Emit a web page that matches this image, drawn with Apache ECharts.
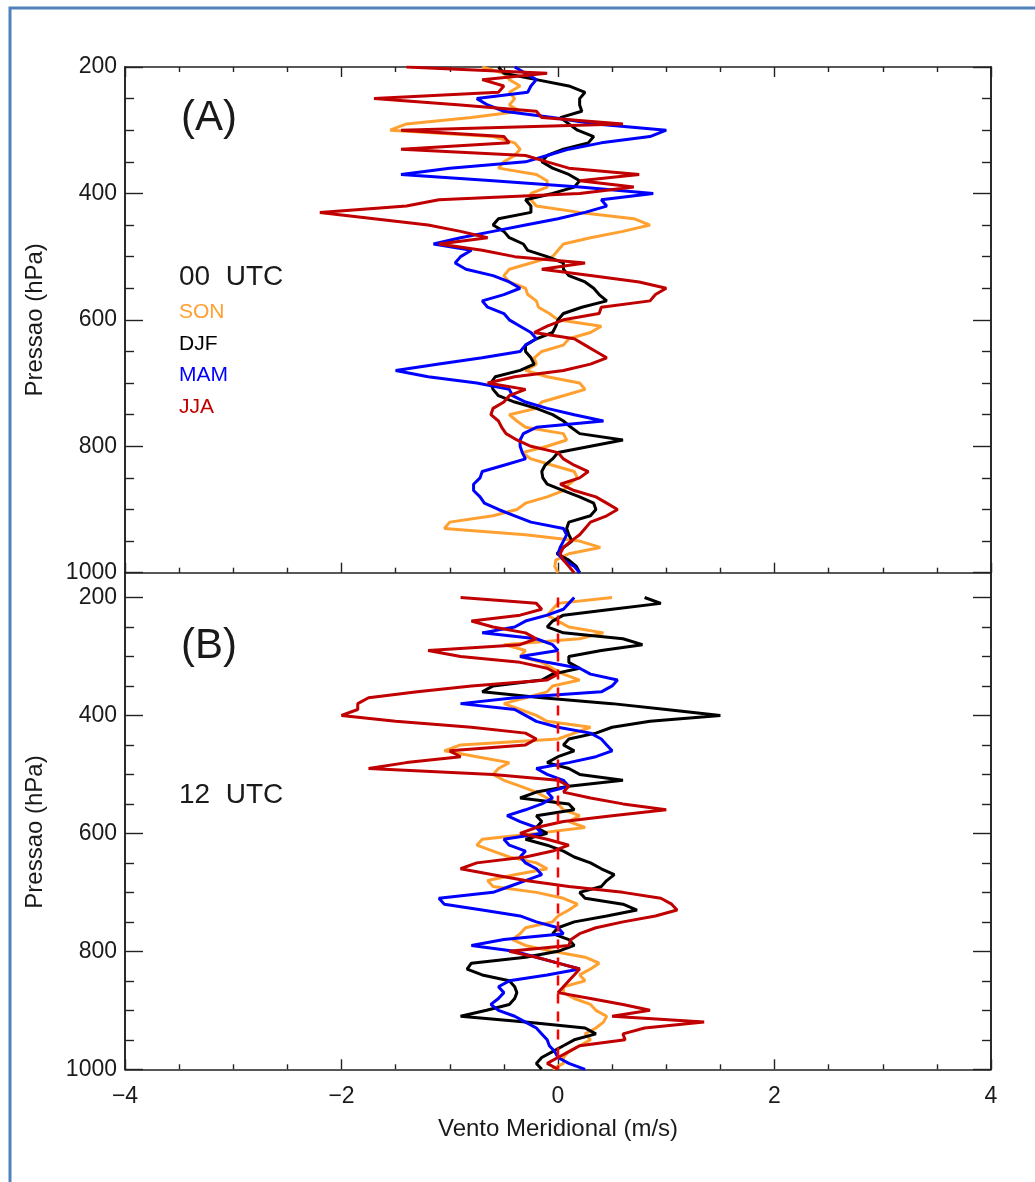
<!DOCTYPE html>
<html>
<head>
<meta charset="utf-8">
<script src="https://cdn.jsdelivr.net/npm/echarts@6/dist/echarts.min.js"></script>
<style>
html,body{margin:0;padding:0;background:#fff;}
#chart{width:1035px;height:1182px;}
</style>
</head>
<body>
<div id="chart"></div>
<script>
// Pressure levels (hPa)
const pressureLevels = [200,210,220,230,240,250,260,270,280,290,
 300,310,320,330,340,350,360,370,380,390,
 400,410,420,430,440,450,460,470,480,490,
 500,510,520,530,540,550,560,570,580,590,
 600,610,620,630,640,650,660,670,680,690,
 700,710,720,730,740,750,760,770,780,790,
 800,810,820,830,840,850,860,870,880,890,
 900,910,920,930,940,950,960,970,980,990,1000];

// (A) 00 UTC meridional wind (m/s)
const son00 = [-0.7,-0.5,-0.45,-0.35,-0.45,-0.4,-0.45,-0.35,-0.8,-1.4,
 -1.55,-0.6,-0.4,-0.35,-0.4,-0.5,-0.55,-0.2,-0.1,-0.1,
 -0.25,-0.25,-0.2,0.2,0.7,0.85,0.6,0.3,0.05,0.0,
 -0.05,-0.25,-0.45,-0.5,-0.45,-0.3,-0.28,-0.2,-0.18,-0.08,
 0.0,0.4,0.3,0.1,0.05,-0.15,-0.22,-0.2,-0.3,-0.1,
 0.2,0.25,0.05,-0.15,-0.2,-0.45,-0.38,-0.3,0.05,0.08,
 -0.1,-0.33,-0.25,-0.05,0.15,0.18,0.1,0.05,-0.1,-0.3,
 -0.38,-0.6,-1.0,-1.05,-0.3,0.2,0.39,0.1,-0.02,-0.03,0.0];
const djf00 = [-0.55,-0.5,-0.2,0.1,0.25,0.2,0.2,0.22,0.02,0.1,
 0.18,0.33,0.28,0.05,-0.1,-0.15,-0.05,0.1,0.2,0.15,
 -0.05,-0.3,-0.25,-0.25,-0.55,-0.6,-0.5,-0.45,-0.32,-0.28,
 -0.1,0.05,0.05,0.1,0.25,0.33,0.38,0.45,0.22,0.05,
 0.0,-0.02,-0.05,-0.2,-0.3,-0.3,-0.25,-0.22,-0.35,-0.58,
 -0.62,-0.6,-0.55,-0.4,-0.2,-0.05,0.05,0.12,0.2,0.6,
 0.3,0.0,-0.05,-0.12,-0.15,-0.14,-0.1,0.05,0.2,0.33,
 0.35,0.3,0.1,0.08,0.1,0.13,0.05,-0.01,0.1,0.17,0.2];
const mam00 = [-0.4,-0.3,-0.2,-0.25,-0.28,-0.75,-0.65,-0.5,-0.05,0.35,
 1.0,0.85,0.4,0.1,-0.1,-0.3,-1.0,-1.45,-0.6,0.2,
 0.88,0.4,0.45,0.25,0.0,-0.3,-0.6,-0.9,-1.15,-0.8,
 -0.9,-0.95,-0.85,-0.6,-0.45,-0.35,-0.5,-0.7,-0.65,-0.5,
 -0.45,-0.35,-0.25,-0.2,-0.3,-0.35,-0.7,-1.1,-1.5,-1.2,
 -0.75,-0.45,-0.42,-0.3,-0.1,0.15,0.42,-0.2,-0.32,-0.35,
 -0.35,-0.33,-0.3,-0.5,-0.7,-0.72,-0.78,-0.78,-0.72,-0.68,
 -0.55,-0.4,-0.25,0.05,0.08,0.05,0.02,0.0,0.05,0.15,0.2];
const jja00 = [-1.4,-0.1,-0.7,-0.5,-0.55,-1.7,-0.9,-0.2,-0.15,0.6,
 -1.45,-0.5,-0.45,-1.45,-0.3,-0.1,0.1,0.75,0.2,0.7,
 0.2,-1.1,-1.4,-2.2,-1.7,-1.2,-0.9,-0.65,-1.1,-0.7,
 -0.4,0.25,-0.15,0.3,0.75,1.0,0.9,0.85,0.4,0.38,
 0.05,-0.1,-0.22,0.15,0.25,0.35,0.45,0.3,0.05,-0.4,
 -0.65,-0.3,-0.45,-0.5,-0.6,-0.62,-0.55,-0.52,-0.48,-0.38,
 -0.25,0.0,0.05,0.15,0.28,0.2,0.02,0.15,0.35,0.45,
 0.55,0.45,0.3,0.25,0.2,0.12,0.05,0.02,0.05,0.1,0.15];

// (B) 12 UTC meridional wind (m/s)
const son12 = [0.5,0.0,-0.05,-0.1,0.0,0.1,0.42,0.2,-0.5,-0.3,
 -0.35,-0.15,-0.05,0.05,0.2,-0.05,-0.1,-0.3,-0.5,-0.35,
 -0.2,-0.1,0.3,0.15,0.0,-0.9,-1.05,-0.75,-0.45,-0.55,
 -0.6,-0.5,-0.35,-0.2,-0.1,0.0,0.05,0.2,0.1,0.25,
 -0.2,-0.7,-0.75,-0.6,-0.45,-0.2,-0.1,-0.4,-0.65,-0.6,
 -0.2,0.05,0.18,0.1,0.0,-0.05,-0.3,-0.35,-0.42,-0.3,
 -0.05,0.25,0.38,0.3,0.2,0.25,0.05,0.05,0.15,0.3,
 0.35,0.45,0.42,0.35,0.25,0.3,0.2,0.1,0.05,0.05,-0.05];
const djf12 = [0.8,0.95,0.5,0.05,-0.05,-0.1,0.05,0.6,0.78,0.4,
 0.1,0.1,0.2,-0.05,-0.15,-0.6,-0.7,-0.15,0.5,1.0,
 1.5,0.85,0.5,0.35,0.1,0.05,0.15,0.0,-0.1,0.1,
 0.2,0.6,0.1,-0.2,-0.35,0.1,0.15,-0.2,-0.15,-0.2,
 -0.1,-0.3,-0.1,0.05,0.15,0.3,0.4,0.52,0.45,0.4,
 0.2,0.25,0.6,0.73,0.45,0.15,0.0,-0.05,0.1,0.15,
 0.0,-0.3,-0.8,-0.84,-0.7,-0.45,-0.4,-0.38,-0.4,-0.45,
 -0.66,-0.9,-0.3,0.25,0.35,0.15,0.05,-0.05,-0.15,-0.2,-0.15];
const mam12 = [0.15,0.1,0.05,-0.1,-0.3,-0.4,-0.7,-0.2,-0.05,0.0,
 -0.35,-0.1,0.2,0.3,0.55,0.5,0.4,-0.4,-0.9,-0.4,
 -0.3,-0.2,0.0,0.3,0.4,0.45,0.5,0.35,0.1,-0.2,
 -0.1,0.05,0.1,-0.1,-0.05,-0.15,-0.3,-0.47,-0.35,-0.2,
 -0.15,-0.5,-0.45,-0.3,-0.35,-0.3,-0.2,-0.15,-0.3,-0.45,
 -0.6,-1.1,-1.05,-0.7,-0.35,-0.2,0.0,0.05,-0.5,-0.8,
 -0.4,-0.2,0.0,0.2,-0.1,-0.45,-0.55,-0.5,-0.55,-0.62,
 -0.55,-0.4,-0.3,-0.2,-0.15,-0.1,-0.08,-0.03,0.0,0.1,0.25];
const jja12 = [-0.9,-0.2,-0.15,-0.35,-0.8,-0.6,-0.3,-0.2,-0.35,-1.2,
 -0.9,-0.35,-0.1,0.0,-0.1,-0.8,-1.3,-1.75,-1.85,-1.85,
 -2.0,-1.5,-0.8,-0.3,-0.2,-0.3,-1.0,-0.9,-1.4,-1.75,
 -0.6,0.0,0.1,0.05,0.3,0.6,1.0,0.5,0.05,-0.2,
 -0.35,-0.1,0.1,-0.05,-0.3,-0.75,-0.9,-0.6,-0.3,0.1,
 0.6,0.95,1.05,1.1,0.9,0.6,0.35,0.2,0.12,0.1,
 -0.45,-0.2,0.0,0.2,0.15,0.1,0.05,0.0,0.3,0.6,
 0.85,0.5,1.35,0.8,0.6,0.62,0.2,0.1,0.0,-0.1,0.0];

// Zero reference line (panel B)
const zeroLineP = [200, 1000];
const zeroLineV = [0, 0];

// Ticks
const yMajorTicks = [200,400,600,800,1000];
const yMinorTicks = [250,300,350,450,500,550,650,700,750,850,900,950];
const xTickInterval = 2;

const seasons = ['SON','DJF','MAM','JJA'];
const seasonColors = {SON:'#ffa030', DJF:'#000000', MAM:'#0000ff', JJA:'#c00000'};
const panelA = {SON:son00, DJF:djf00, MAM:mam00, JJA:jja00};
const panelB = {SON:son12, DJF:djf12, MAM:mam12, JJA:jja12};

const FONT = 'Liberation Sans';
const TXT = '#1a1a1a';

function toPairs(vals){ return pressureLevels.map((p,i)=>[vals[i], p]); }

function xAxisDef(grid, pos, showLabels){
  return {
    type:'value', gridIndex:grid, position:pos, min:-4, max:4, interval:xTickInterval,
    axisLine:{show:true, onZero:false, lineStyle:{color:'#222', width:1.6}},
    axisTick:{show:true, inside:true, length:10, lineStyle:{color:'#222', width:1.4}},
    minorTick:{show:true, splitNumber:4, length:5, lineStyle:{color:'#222', width:1.4}},
    splitLine:{show:false}, minorSplitLine:{show:false},
    axisLabel:{show:showLabels, margin:16, fontFamily:FONT, fontSize:23, color:TXT,
      formatter:(v)=> v<0 ? '\u2212'+Math.abs(v) : String(v)},
    name: showLabels ? 'Vento Meridional (m/s)' : '',
    nameLocation:'middle', nameGap:48,
    nameTextStyle:{fontFamily:FONT, fontSize:24, color:TXT}
  };
}
function yAxisDef(grid, pos, major, min, withName, namePad){
  return {
    type:'value', gridIndex:grid, position:pos, min:min, max:1000, inverse:true,
    axisLine:{show:true, onZero:false, lineStyle:{color:'#222', width:1.6}},
    axisTick:{show:true, inside:true, length: major?18:9, customValues: major?yMajorTicks:yMinorTicks,
      lineStyle:{color:'#222', width:1.4}},
    axisLabel:{show: major && pos==='left', customValues:yMajorTicks, margin:8,
      fontFamily:FONT, fontSize:23, color:TXT, formatter:(v)=>String(v)},
    splitLine:{show:false},
    name: withName ? 'Pressao (hPa)' : '',
    nameLocation:'middle', nameGap:78, nameRotate:90,
    nameTextStyle:{fontFamily:FONT, fontSize:24, color:TXT, padding: namePad || 0}
  };
}

const series = [];
seasons.forEach(s=>{
  series.push({name:s, type:'line', xAxisIndex:0, yAxisIndex:0, data:toPairs(panelA[s]),
    showSymbol:false, symbol:'none', color:seasonColors[s], lineStyle:{width:3, color:seasonColors[s]}, z:3});
});
seasons.forEach(s=>{
  series.push({name:s, type:'line', xAxisIndex:2, yAxisIndex:4, data:toPairs(panelB[s]),
    showSymbol:false, symbol:'none', color:seasonColors[s], lineStyle:{width:3, color:seasonColors[s]}, z:3});
});
series.push({name:'zero', type:'line', xAxisIndex:2, yAxisIndex:4,
  data: zeroLineP.map((p,i)=>[zeroLineV[i], p]), symbol:'none', silent:true,
  lineStyle:{width:2.5, color:'#ff0000', type:[10,8]}, z:5});

const option = {
  animation:false,
  backgroundColor:'#ffffff',
  grid:[
    {left:125, right:44, top:67, height:505.7},
    {left:125, right:44, top:572.7, height:496.6}
  ],
  xAxis:[ xAxisDef(0,'bottom',false), xAxisDef(0,'top',false), xAxisDef(1,'bottom',true) ],
  yAxis:[
    yAxisDef(0,'left',true,200,true), yAxisDef(0,'left',false,200,false),
    yAxisDef(0,'right',true,200,false), yAxisDef(0,'right',false,200,false),
    yAxisDef(1,'left',true,158,true,[0,22,0,0]), yAxisDef(1,'left',false,158,false),
    yAxisDef(1,'right',true,158,false), yAxisDef(1,'right',false,158,false)
  ],
  legend:{
    orient:'vertical', left:174, top:302, padding:0, itemGap:10.5,
    itemWidth:0, itemHeight:21, icon:'none', selectedMode:false,
    data: seasons.map(s=>({name:s, textStyle:{color:seasonColors[s]}})),
    textStyle:{fontFamily:FONT, fontSize:21}
  },
  graphic:[
    {type:'rect', shape:{x:10, y:8, width:1200, height:1400}, style:{fill:'none', stroke:'#4f81bd', lineWidth:3}, silent:true},
    {type:'text', x:181, y:118, style:{text:'(A)', font:'42px "Liberation Sans"', fill:TXT, verticalAlign:'middle'}},
    {type:'text', x:179, y:277, style:{text:'00  UTC', font:'28px "Liberation Sans"', fill:TXT, verticalAlign:'middle'}},
    {type:'text', x:181, y:646, style:{text:'(B)', font:'42px "Liberation Sans"', fill:TXT, verticalAlign:'middle'}},
    {type:'text', x:179, y:795, style:{text:'12  UTC', font:'28px "Liberation Sans"', fill:TXT, verticalAlign:'middle'}}
  ],
  series: series
};

const chart = echarts.init(document.getElementById('chart'), null, {renderer:'canvas'});
chart.setOption(option);
</script>
</body>
</html>
